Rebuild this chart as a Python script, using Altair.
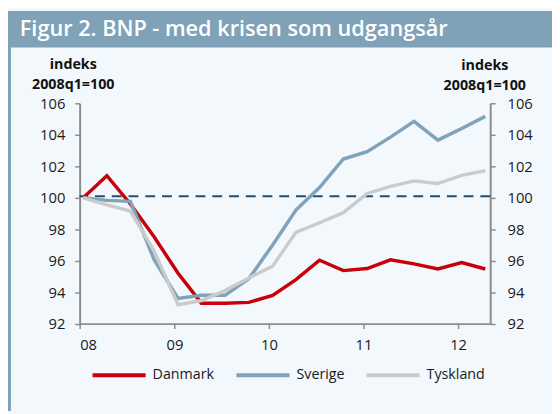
import altair as alt
import pandas as pd

quarters = ["2008-01", "2008-04", "2008-07", "2008-10",
            "2009-01", "2009-04", "2009-07", "2009-10",
            "2010-01", "2010-04", "2010-07", "2010-10",
            "2011-01", "2011-04", "2011-07", "2011-10",
            "2012-01", "2012-04"]
danmark = [100.0, 101.4, 99.6, 97.5, 95.2, 93.3, 93.3, 93.35, 93.8, 94.8,
           96.03, 95.37, 95.5, 96.05, 95.8, 95.47, 95.88, 95.47]
sverige = [100.0, 99.83, 99.77, 96.05, 93.6, 93.8, 93.8, 94.85, 97.0, 99.22,
           100.65, 102.46, 102.93, 103.85, 104.85, 103.66, 104.4, 105.17]
tyskland = [100.0, 99.55, 99.15, 96.6, 93.2, 93.47, 94.1, 94.9, 95.65, 97.8,
            98.41, 99.05, 100.27, 100.72, 101.07, 100.9, 101.42, 101.72]
series = ["Danmark", "Sverige", "Tyskland"]
colors = ["#c8000a", "#7fa3b9", "#cbcbcb"]
ref_level = 100.1
title_text = "Figur 2. BNP - med krisen som udgangsår"
axis_title = ["indeks", "2008q1=100"]

rows = []
for name, vals in zip(series, [danmark, sverige, tyskland]):
    for q, v in zip(quarters, vals):
        rows.append({"dato": q + "-15T00:00:00", "serie": name, "værdi": v})
df = pd.DataFrame(rows)

FONT = "Open Sans"
W, H = 416.6, 223.6
PL, PT = 72.7, 93.7
PR, PB = 552 - PL - W, 406 - PT - H

xscale = alt.Scale(domain=[alt.DateTime(year=2008, month=1, date=1),
                           alt.DateTime(year=2012, month=5, date=4)])
yscale = alt.Scale(domain=[92, 106], nice=False, zero=False)

xaxis = alt.Axis(format="%y", values=[alt.DateTime(year=y, month=1, date=1) for y in range(2008, 2013)],
                 title=None, grid=False, domainColor="#8c8c8c", domainWidth=2,
                 tickColor="#8c8c8c", tickWidth=1.5, tickSize=5, labelFont=FONT,
                 labelFontSize=15, labelColor="#1a1a1a", labelPadding=9)

left_axis = alt.Axis(orient="left", values=list(range(92, 107, 2)), grid=False,
                     title=axis_title, titleAngle=0, titleAlign="center", titleBaseline="alphabetic",
                     titleX=-7, titleY=-35, titleFont=FONT, titleFontSize=14.5, titleFontWeight="bold",
                     titleColor="#111", titleLineHeight=20,
                     domainColor="#8c8c8c", domainWidth=2, tickColor="#8c8c8c", tickWidth=1.5,
                     tickSize=5, labelFont=FONT, labelFontSize=15, labelColor="#1a1a1a", labelPadding=10)
right_axis = alt.Axis(orient="right", values=list(range(92, 107, 2)), grid=False,
                      title=axis_title, titleAngle=0, titleAlign="center", titleBaseline="alphabetic",
                      titleX=-6, titleY=-34, titleFont=FONT, titleFontSize=14.5, titleFontWeight="bold",
                      titleColor="#111", titleLineHeight=20,
                      domainColor="#8c8c8c", domainWidth=2, tickColor="#8c8c8c", tickWidth=1.5,
                      tickSize=5, labelFont=FONT, labelFontSize=15, labelColor="#1a1a1a", labelPadding=12)

base = alt.Chart(df)

lines = base.mark_line(strokeWidth=3.5, strokeJoin="miter").encode(
    x=alt.X("dato:T", scale=xscale, axis=xaxis),
    y=alt.Y("værdi:Q", scale=yscale, axis=left_axis),
    color=alt.Color("serie:N", scale=alt.Scale(domain=series, range=colors),
                    legend=alt.Legend(orient="none", legendX=11, legendY=247, direction="horizontal",
                                      title=None, symbolType="stroke", symbolSize=2900,
                                      symbolStrokeWidth=4, labelFont=FONT, labelFontSize=14.5,
                                      labelColor="#1a1a1a", labelOffset=5, columnPadding=14,
                                      gridAlign="each")),
    order=alt.Order("serie:N"),
)

ref = alt.Chart(pd.DataFrame({"niveau": [ref_level]})).mark_rule(
    color="#1f4e79", strokeWidth=2, strokeDash=[10, 7]).encode(
    y=alt.Y("niveau:Q", scale=yscale, axis=None))

right = base.mark_line(opacity=0).encode(
    x=alt.X("dato:T", scale=xscale),
    y=alt.Y("værdi:Q", scale=yscale, axis=right_axis),
    detail="serie:N",
)

one = pd.DataFrame({"t": [title_text]})
band = alt.Chart(one).mark_rect(color="#7fa2b8").encode(
    x=alt.value(-PL), x2=alt.value(552 - PL), y=alt.value(-PT), y2=alt.value(45 - 8 - PT))
strip = alt.Chart(one).mark_rect(color="#7fa2b8").encode(
    x=alt.value(-PL), x2=alt.value(-PL + 3), y=alt.value(-PT), y2=alt.value(406 - PT))
title = alt.Chart(one).mark_text(align="left", baseline="alphabetic", color="white",
                                 font=FONT, fontSize=22, fontWeight=600).encode(
    x=alt.value(20 - 8 - PL), y=alt.value(33 - 8 - PT), text="t:N")

chart = alt.layer(band, strip, title, ref, lines, right).resolve_scale(y="independent").properties(
    width=W, height=H,
    padding={"left": PL, "top": PT, "right": PR, "bottom": PB},
    autosize=alt.AutoSizeParams(type="none"),
    background="#f3f8fc",
).configure_view(stroke=None)

chart.save("out.html", embed_options={"renderer": "svg", "actions": False})
